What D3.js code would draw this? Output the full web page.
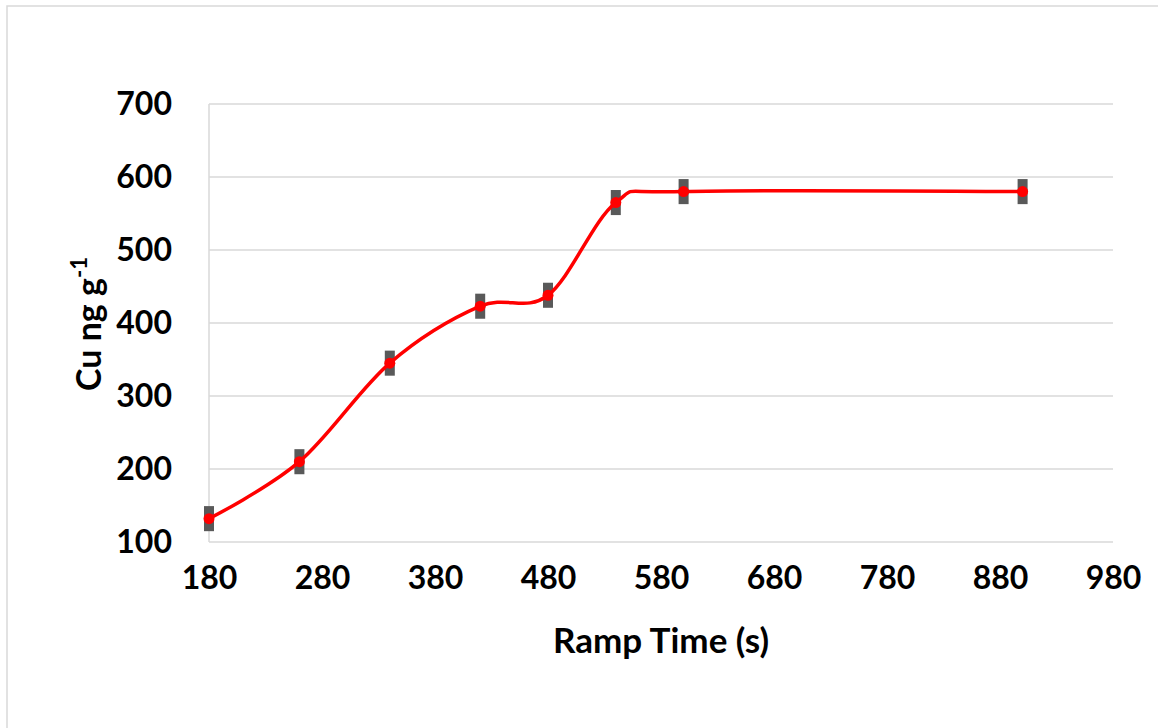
<!DOCTYPE html>
<html>
<head>
<meta charset="utf-8">
<script src="https://cdn.jsdelivr.net/npm/d3@7"></script>
<style>
  html, body { margin: 0; padding: 0; background: #fff; }
  svg { display: block; }
  text { font-family: Lato, "Open Sans", sans-serif; font-weight: bold; fill: #000; }
</style>
</head>
<body>
<script>
const rampTime = [180, 260, 340, 420, 480, 540, 600, 900];
const cuValues = [132, 210, 345, 423, 438, 565, 580, 580];
const cuError  = [11, 11, 11, 11, 11, 11, 11, 11];
const xTicks = [180, 280, 380, 480, 580, 680, 780, 880, 980];
const yTicks = [100, 200, 300, 400, 500, 600, 700];

const W = 1158, H = 728;
const svg = d3.select("body").append("svg").attr("width", W).attr("height", H);

// chart border
svg.append("rect").attr("x", 7).attr("y", 6).attr("width", W + 10).attr("height", H + 10)
  .attr("fill", "#fff").attr("stroke", "#d9d9d9").attr("stroke-width", 1.5);

const x = d3.scaleLinear().domain([180, 980]).range([209, 1113]);
const y = d3.scaleLinear().domain([100, 700]).range([542, 104]);

// gridlines
svg.append("g").selectAll("line").data(yTicks).join("line")
  .attr("x1", x(180)).attr("x2", x(980))
  .attr("y1", d => y(d)).attr("y2", d => y(d))
  .attr("stroke", "#d9d9d9").attr("stroke-width", 1.5);

// left axis line
svg.append("line").attr("x1", x(180)).attr("x2", x(180)).attr("y1", y(700)).attr("y2", y(100))
  .attr("stroke", "#d9d9d9").attr("stroke-width", 1.5);

// y axis labels
const yAxis = d3.axisLeft(y).tickValues(yTicks).tickSize(0).tickPadding(37);
const gy = svg.append("g").attr("transform", `translate(${x(180)},0)`).call(yAxis);
gy.select(".domain").remove();
gy.selectAll("text").style("font-size", "32px").style("font-family", "Lato, sans-serif").style("font-weight", "bold").attr("fill", "#000");

// x axis labels
const xAxis = d3.axisBottom(x).tickValues(xTicks).tickSize(0).tickPadding(24);
const gx = svg.append("g").attr("transform", `translate(0,${y(100)})`).call(xAxis);
gx.select(".domain").remove();
gx.selectAll("text").style("font-size", "32px").style("font-family", "Lato, sans-serif").style("font-weight", "bold").attr("fill", "#000");

// axis titles
svg.append("text").attr("x", 661).attr("y", 653).attr("text-anchor", "middle")
  .style("font-size", "35px").text("Ramp Time (s)");

const yt = svg.append("text").attr("transform", "translate(101,324) rotate(-90)")
  .attr("text-anchor", "middle").style("font-size", "34px");
yt.append("tspan").text("Cu ng g");
yt.append("tspan").attr("dy", -14).style("font-size", "22px").text("-1");

const data = rampTime.map((t, i) => ({ t, v: cuValues[i], e: cuError[i] }));

// error bars (thick with square caps)
svg.append("g").selectAll("rect").data(data).join("rect")
  .attr("x", d => x(d.t) - 5)
  .attr("y", d => y(d.v + d.e) - 4.5)
  .attr("width", 10)
  .attr("height", d => y(d.v - d.e) - y(d.v + d.e) + 9)
  .attr("fill", "#595959");

// smooth line
const line = d3.line().x(d => x(d.t)).y(d => y(d.v)).curve(d3.curveCatmullRom.alpha(0));
svg.append("path").datum(data).attr("d", line)
  .attr("fill", "none").attr("stroke", "#ff0000").attr("stroke-width", 3.5);

// markers
svg.append("g").selectAll("circle").data(data).join("circle")
  .attr("cx", d => x(d.t)).attr("cy", d => y(d.v)).attr("r", 5.5).attr("fill", "#ff0000");
</script>
</body>
</html>
